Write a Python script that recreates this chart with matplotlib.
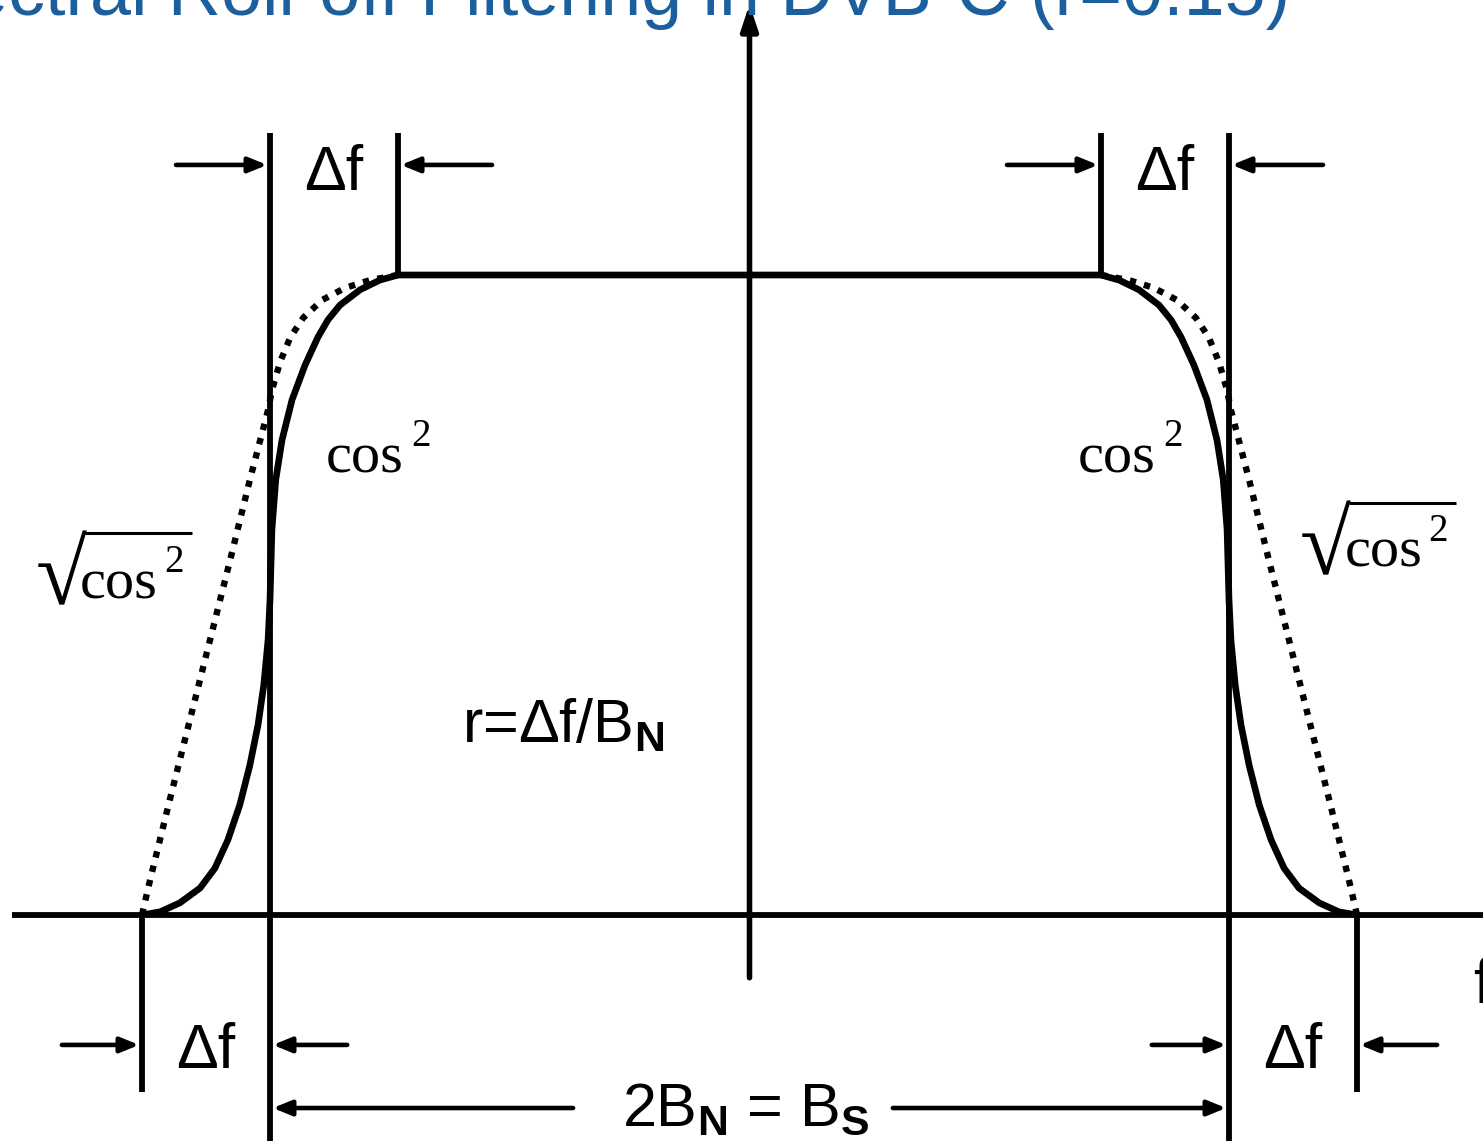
import matplotlib
matplotlib.use("Agg")
import matplotlib.pyplot as plt
from matplotlib.font_manager import FontProperties
from matplotlib.textpath import TextPath

# drawing is normalised: B_N = 1 on the frequency axis, flat top = 1 in amplitude
B_N = 1.0
ROLLOFF = 0.267   # roll-off as drawn (the sketch exaggerates the 0.15 of the title)

# one flank as (|f|/B_N, amplitude), mirrored for the other side
cos2_f = [0.733, 0.771, 0.812, 0.854, 0.879, 0.900, 0.927, 0.954, 0.975, 0.988,
          0.996, 1.000, 1.004, 1.013, 1.025, 1.042, 1.063, 1.088, 1.115, 1.146,
          1.188, 1.229, 1.267]
cos2_a = [1.000, 0.992, 0.977, 0.953, 0.930, 0.903, 0.859, 0.805, 0.742, 0.680,
          0.602, 0.492, 0.430, 0.359, 0.297, 0.234, 0.172, 0.117, 0.073, 0.042,
          0.019, 0.005, 0.000]

sqrtcos2_f = [0.733, 0.791, 0.843, 0.891, 0.931, 0.958, 0.979, 0.996, 1.004,
              1.042, 1.083, 1.125, 1.167, 1.209, 1.250, 1.267]
sqrtcos2_a = [1.000, 0.992, 0.980, 0.961, 0.933, 0.902, 0.864, 0.820, 0.789,
              0.680, 0.555, 0.430, 0.305, 0.180, 0.055, 0.000]

title = "Spectral Roll-off Filtering in DVB-C (r=0.15)"
TITLE_BLUE = "#1c5f9e"

plt.rcParams["font.family"] = ["Liberation Sans", "DejaVu Sans"]
plt.rcParams["mathtext.fontset"] = "custom"
plt.rcParams["mathtext.default"] = "regular"
plt.rcParams["mathtext.bf"] = "Liberation Sans:bold"

W, H = 1483, 1141
# scale: 479.5 px per B_N, 640 px per unit amplitude, origin at (749.5, 915) px
PX_F, PX_A, X0, Y0 = 479.5, 640.0, 749.5, 915.0

fig = plt.figure(figsize=(W / 100, H / 100), dpi=100)
ax = fig.add_axes([0, 0, 1, 1])
ax.axis("off")
ax.set_xlim(-X0 / PX_F, (W - X0) / PX_F)
ax.set_ylim(-(H - Y0) / PX_A, Y0 / PX_A)

r = ROLLOFF * B_N
inner, edge, outer = B_N - r, B_N, B_N + r
half_lw = 0.006  # half a line width in f units, so arrow tips touch the lines

fig.text(1290 / W, 1 - 15 / H, title, ha="right", va="baseline",
         fontsize=53, color=TITLE_BLUE)

LW = 4.2
# frequency axis and vertical marker lines
ax.hlines(0, -1.538, 2.0, color="black", lw=LW)
for s in (-1, 1):
    ax.vlines(s * edge, -0.40, 1.222, color="black", lw=LW)
    ax.vlines(s * inner, 1.0, 1.222, color="black", lw=LW)
    ax.vlines(s * outer, -0.277, 0.0, color="black", lw=LW)

# amplitude axis
ax.annotate("", xy=(0, 1.423), xytext=(0, -0.098),
            arrowprops=dict(arrowstyle="-|>,head_length=1.5,head_width=0.5",
                            lw=4, color="black", shrinkA=0, shrinkB=0,
                            mutation_scale=10))

# sqrt(cos^2) flanks, dotted
for s in (-1, 1):
    ax.plot([s * f for f in sqrtcos2_f], sqrtcos2_a, color="black", lw=4.6,
            linestyle=(0, (1.0, 1.3)), dash_capstyle="butt")

# cos^2 response (left flank, flat top, right flank)
full_f = [-f for f in cos2_f[::-1]] + cos2_f
full_a = cos2_a[::-1] + cos2_a
ax.plot(full_f, full_a, color="black", lw=4.8, solid_joinstyle="round",
        solid_capstyle="butt")


def dim_arrow(x_tail, x_tip, y):
    ax.annotate("", xy=(x_tip, y), xytext=(x_tail, y),
                arrowprops=dict(arrowstyle="-|>,head_length=1.1,head_width=0.45",
                                lw=3.3, color="black", shrinkA=0, shrinkB=0,
                                mutation_scale=10))


# top delta-f markers
y_top = 1.172
for s in (-1, 1):
    dim_arrow(s * (edge + 0.196), s * (edge + half_lw), y_top)
    dim_arrow(s * (inner - 0.196), s * (inner - half_lw), y_top)
    ax.text(s * (edge - r / 2), 1.133, "Δf", ha="center", va="baseline",
            fontsize=45)

# bottom delta-f markers
y_bot = -0.203
for s in (-1, 1):
    dim_arrow(s * (outer + 0.167), s * (outer + half_lw), y_bot)
    dim_arrow(s * (edge - 0.161), s * (edge - half_lw), y_bot)
    ax.text(s * (edge + r / 2), -0.239, "Δf", ha="center", va="baseline",
            fontsize=45)

# bandwidth marker
y_bw = -0.3016
dim_arrow(-0.368, -(edge - half_lw), y_bw)
dim_arrow(0.299, edge - half_lw, y_bw)
ax.text(-0.266, -0.328, r"2B$_{\mathbf{N}}$ = B$_{\mathbf{S}}$", ha="left",
        va="baseline", fontsize=44)

ax.text(-0.600, 0.270, r"r=Δf/B$_{\mathbf{N}}$", ha="left",
        va="baseline", fontsize=44)
ax.text(1.509, -0.1375, "f", ha="left", va="baseline", fontsize=45)

# curve labels (Times-like, superscript and radical set by hand)
serif = ["Liberation Serif", "DejaVu Serif"]
cos_labels = [(-0.883, 0.692, -0.706, 0.733), (0.685, 0.692, 0.862, 0.733)]
for x, y, x2, y2 in cos_labels:
    ax.text(x, y, "cos", ha="left", va="baseline", fontsize=42, family=serif)
    ax.text(x2, y2, "2", ha="left", va="baseline", fontsize=28, family=serif)

# radical sign sized from its glyph outline so it fills the box seen in the sketch
rad_prop = FontProperties(family="Liberation Serif")
rad_ext = TextPath((0, 0), "√", size=100, prop=rad_prop).get_extents()
RAD_H_PX = 74
rad_fs = 100 * (RAD_H_PX * 0.72) / rad_ext.height
px_per_unit = rad_fs / 72          # glyph units at size 100 -> pixels
rad_w_px = rad_ext.width * px_per_unit

# (radical ink left px, ink bottom px, overline end px, cos left, cos base, 2 left, 2 base)
root_labels = [(38, 605, 192, -1.396, 0.495, -1.221, 0.536),
               (1302, 575, 1456, 1.242, 0.544, 1.415, 0.584)]
for left_px, bottom_px, end_px, x, y, x2, y2 in root_labels:
    anchor_px = left_px - rad_ext.x0 * px_per_unit
    base_px = bottom_px + rad_ext.y0 * px_per_unit
    ax.text((anchor_px - X0) / PX_F, (Y0 - base_px) / PX_A, "√", ha="left",
            va="baseline", fontsize=rad_fs, fontproperties=None, family=serif)
    top_px = bottom_px - RAD_H_PX + 1.5
    ax.plot([(left_px + rad_w_px - 1.5 - X0) / PX_F, (end_px - X0) / PX_F],
            [(Y0 - top_px) / PX_A] * 2, color="black", lw=2.2,
            solid_capstyle="butt")
    ax.text(x, y, "cos", ha="left", va="baseline", fontsize=42, family=serif)
    ax.text(x2, y2, "2", ha="left", va="baseline", fontsize=28, family=serif)

fig.savefig("out.png", dpi=100)
